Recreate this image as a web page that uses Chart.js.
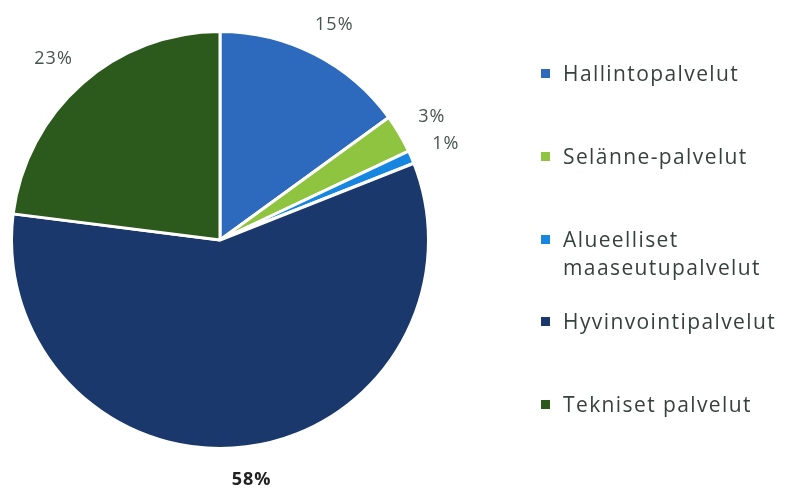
<!DOCTYPE html>
<html>
<head>
<meta charset="utf-8">
<script src="https://cdn.jsdelivr.net/npm/chart.js@4.4.1/dist/chart.umd.min.js"></script>
<style>
  html, body { margin: 0; padding: 0; background: #fff; }
  #wrap { position: relative; width: 786px; height: 489px; }
  #legend { position: absolute; left: 541px; top: 0; font-family: "Open Sans", sans-serif; font-size: 21px; letter-spacing: 1.4px; color: #36403d; }
  .item { position: absolute; left: 0; white-space: nowrap; line-height: 28px; }
  .box { position: absolute; left: 0; top: 10px; width: 9px; height: 9px; }
  .txt { position: absolute; left: 22px; top: 0; }
</style>
</head>
<body>
<div id="wrap">
  <canvas id="pieChart" width="786" height="489"></canvas>
  <div id="legend"></div>
</div>
<script>
const labels = ["Hallintopalvelut", "Selänne-palvelut", "Alueelliset maaseutupalvelut", "Hyvinvointipalvelut", "Tekniset palvelut"];
const shares = [15, 3, 1, 58, 23];
const colors = ["#2d69bd", "#8fc440", "#1686e0", "#1a386b", "#2c5a1d"];

// legend rows (top of each row, px) and wrapped label text
const legendTops = [59, 142, 225, 307, 390];
const legendLines = [["Hallintopalvelut"], ["Selänne-palvelut"], ["Alueelliset", "maaseutupalvelut"], ["Hyvinvointipalvelut"], ["Tekniset palvelut"]];

const legend = document.getElementById("legend");
labels.forEach((label, i) => {
  const item = document.createElement("div");
  item.className = "item";
  item.style.top = legendTops[i] + "px";
  item.innerHTML = `<span class="box" style="background:${colors[i]}"></span><span class="txt">${legendLines[i].join("<br>")}</span>`;
  legend.appendChild(item);
});

// percent labels sit just outside the rim, pushed out by half their box
const outsideLabels = {
  id: "outsideLabels",
  afterDatasetsDraw(chart) {
    const ctx = chart.ctx;
    const meta = chart.getDatasetMeta(0);
    ctx.save();
    ctx.textAlign = "center";
    ctx.textBaseline = "middle";
    meta.data.forEach((arc, i) => {
      const big = shares[i] === 58;
      ctx.font = (big ? "bold " : "") + "18px 'Open Sans', sans-serif";
      ctx.letterSpacing = "1px";
      ctx.fillStyle = big ? "#222" : "#46534f";
      const text = shares[i] + "%";
      const halfW = ctx.measureText(text).width / 2;
      const halfH = 9;
      const mid = (arc.startAngle + arc.endAngle) / 2;
      const cos = Math.cos(mid);
      const sin = Math.sin(mid);
      const dist = arc.outerRadius + 24;
      const x = arc.x + cos * dist + cos * halfW;
      const y = arc.y + sin * dist + sin * halfH;
      ctx.fillText(text, x, y);
    });
    ctx.restore();
  }
};

const context = document.getElementById("pieChart").getContext("2d");
new Chart(context, {
  type: "pie",
  data: {
    labels,
    datasets: [{
      data: shares,
      backgroundColor: colors,
      borderColor: "#ffffff",
      borderWidth: 3
    }]
  },
  options: {
    responsive: false,
    animation: false,
    layout: { padding: { left: 10, top: 30, right: 356, bottom: 39 } },
    plugins: { legend: { display: false }, tooltip: { enabled: false } }
  },
  plugins: [outsideLabels]
});
</script>
</body>
</html>
